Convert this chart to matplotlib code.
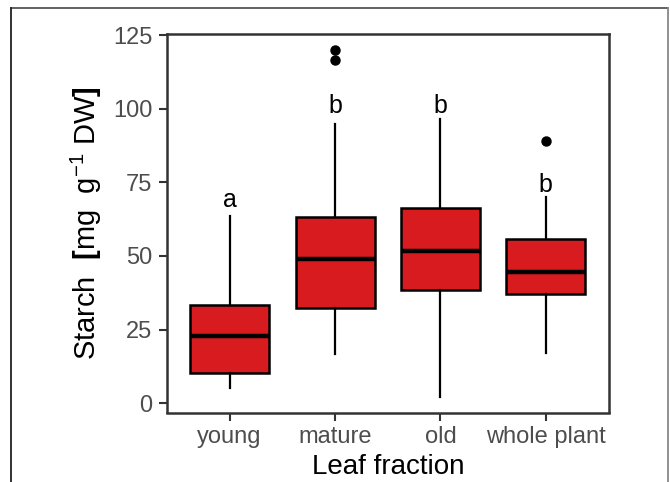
import matplotlib
matplotlib.use("Agg")
import matplotlib.pyplot as plt
from matplotlib.lines import Line2D

plt.rcParams['font.family'] = ['Liberation Sans', 'DejaVu Sans']
plt.rcParams['mathtext.fontset'] = 'custom'
plt.rcParams['mathtext.rm'] = 'Liberation Sans'
plt.rcParams['mathtext.it'] = 'Liberation Sans:italic'
plt.rcParams['mathtext.bf'] = 'Liberation Sans:bold'

categories = ['young', 'mature', 'old', 'whole plant']
q1 = [10.1, 32.4, 38.4, 37.0]
med = [22.9, 48.8, 51.6, 44.4]
q3 = [33.3, 63.3, 66.3, 55.6]
whislo = [5.0, 16.6, 1.9, 16.9]
whishi = [63.6, 94.7, 96.5, 69.9]
fliers = [[], [116.5, 119.9], [], [89.0]]
letters = ['a', 'b', 'b', 'b']
letter_y = [66.5, 98.4, 98.6, 71.8]
yticks = [0, 25, 50, 75, 100, 125]

W, H = 670, 482
fig = plt.figure(figsize=(W / 100, H / 100), dpi=100)
ax = fig.add_axes([166.5 / W, 1 - 412.5 / H, (609 - 166.5) / W, (412.5 - 34) / H])

stats = []
for i, c in enumerate(categories):
    stats.append(dict(label=c, q1=q1[i], med=med[i], q3=q3[i],
                      whislo=whislo[i], whishi=whishi[i], fliers=fliers[i]))
pos = list(range(1, len(categories) + 1))
ax.bxp(stats, positions=pos, widths=0.75, patch_artist=True, showcaps=False,
       boxprops=dict(facecolor='#D81B1E', edgecolor='black', linewidth=1.8),
       medianprops=dict(color='black', linewidth=3.2, solid_capstyle='butt'),
       whiskerprops=dict(color='black', linewidth=1.6),
       flierprops=dict(marker='o', markerfacecolor='black', markeredgecolor='black',
                       markersize=6.5, linestyle='none'))

for p, t, yv in zip(pos, letters, letter_y):
    ax.text(p, yv, t, ha='center', va='baseline', fontsize=18, color='black')

ax.set_xlim(0.4, 4.6)
ax.set_ylim(-3.2, 125.4)
ax.set_xticks(pos)
ax.set_xticklabels(categories)
ax.set_yticks(yticks)
ax.tick_params(axis='both', labelsize=17, labelcolor='#4D4D4D', color='#333333',
               width=1.5, length=6, pad=4)
for s in ax.spines.values():
    s.set_color('#333333')
    s.set_linewidth(1.8)

ax.set_xlabel('Leaf fraction', fontsize=20, color='black', labelpad=4)
ax.set_ylabel(r'Starch $\ \mathbf{[}\mathrm{mg\ \ g^{-1}\ DW}\mathbf{]}$', fontsize=21,
              color='black', labelpad=7)

# outer frame
def fl(x0, y0, x1, y1, color):
    fig.add_artist(Line2D([x0 / W, x1 / W], [1 - y0 / H, 1 - y1 / H],
                          transform=fig.transFigure, color=color, linewidth=1.3))
fl(11, 8, 668, 8, '#555555')
fl(11, 8, 11, 482, '#222222')
fl(668, 8, 668, 482, '#888888')

fig.savefig('out.png', dpi=100)
